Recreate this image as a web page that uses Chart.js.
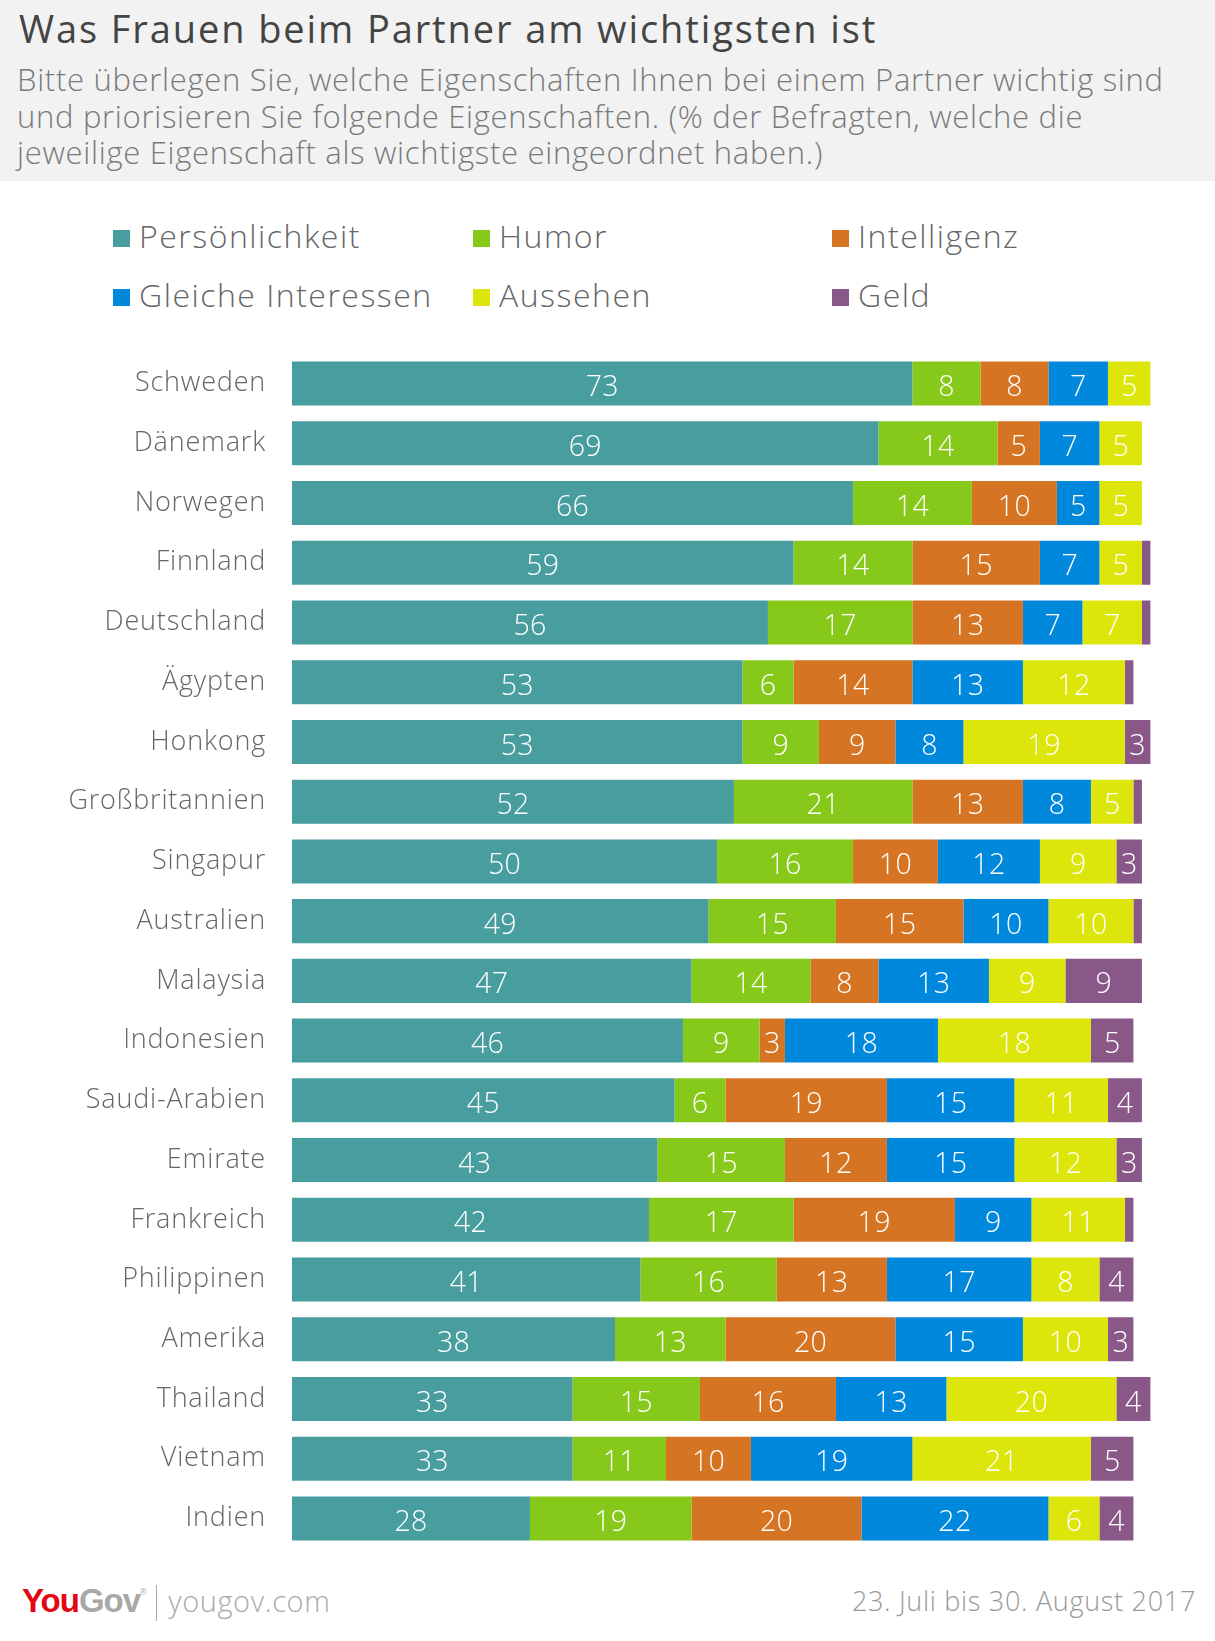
<!DOCTYPE html>
<html>
<head>
<meta charset="utf-8">
<script src="https://cdn.jsdelivr.net/npm/chart.js@4/dist/chart.umd.min.js"></script>
<style>
  html, body { margin: 0; padding: 0; background: #fff; }
  body { width: 1215px; height: 1641px; position: relative; overflow: hidden; font-family: "Open Sans", Lato, sans-serif; }
  #header { position: absolute; left: 0; top: 0; width: 1215px; height: 181px; background: #f2f2f2; }
  #title { position: absolute; left: 19px; top: 2px; font-size: 38px; color: #444; font-weight: 400; white-space: nowrap; letter-spacing: 1.9px; }
  #subtitle { position: absolute; left: 17px; top: 61px; font-size: 31px; line-height: 36.6px; color: #7a7a7a; font-weight: 300; white-space: nowrap; letter-spacing: 0.7px; }
  #legend { position: absolute; left: 0; top: 210px; width: 1215px; height: 110px; }
  .li { position: absolute; font-size: 32px; color: #666; font-weight: 300; white-space: nowrap; line-height: 40px; letter-spacing: 1.5px; }
  .li span.sw { display: inline-block; width: 17px; height: 17px; margin-right: 9px; vertical-align: 1px; }
  #chartwrap { position: absolute; left: 0; top: 340px; width: 1215px; height: 1221px; }
  #footer-left { position: absolute; left: 22px; top: 1581px; font-size: 29px; color: #aaa; white-space: nowrap; }
  #footer-left .you { color: #e30613; font-weight: 700; letter-spacing: -1px; font-family: "Liberation Sans", Arial, sans-serif; font-size: 33px; }
  #footer-left .gov { color: #a8a8a8; font-weight: 700; letter-spacing: -1px; font-family: "Liberation Sans", Arial, sans-serif; font-size: 33px; }
  #footer-left .reg { color: #a8a8a8; font-size: 9px; vertical-align: 17px; font-family: "Liberation Sans", Arial, sans-serif; }
  #footer-left .sep { display: inline-block; width: 1.5px; height: 36px; background: #aaa; margin: 0 11px 0 9px; vertical-align: -9px; }
  #footer-left .url { font-weight: 300; color: #aaa; letter-spacing: 0.6px; }
  #footer-right { position: absolute; right: 19px; top: 1582px; font-size: 27px; color: #999; font-weight: 300; white-space: nowrap; letter-spacing: 0.7px; }
</style>
</head>
<body>
<div id="header">
  <div id="title">Was Frauen beim Partner am wichtigsten ist</div>
  <div id="subtitle">Bitte überlegen Sie, welche Eigenschaften Ihnen bei einem Partner wichtig sind<br>und priorisieren Sie folgende Eigenschaften. (% der Befragten, welche die<br>jeweilige Eigenschaft als wichtigste eingeordnet haben.)</div>
</div>
<div id="legend"></div>
<div id="chartwrap"><canvas id="c" width="1215" height="1221"></canvas></div>
<div id="footer-left"><span class="you">You</span><span class="gov">Gov</span><span class="reg">®</span><span class="sep"></span><span class="url">yougov.com</span></div>
<div id="footer-right">23. Juli bis 30. August 2017</div>

<script>
// ---- data ----
const countries = ["Schweden","Dänemark","Norwegen","Finnland","Deutschland","Ägypten","Honkong","Großbritannien","Singapur","Australien","Malaysia","Indonesien","Saudi-Arabien","Emirate","Frankreich","Philippinen","Amerika","Thailand","Vietnam","Indien"];
const seriesNames = ["Persönlichkeit","Humor","Intelligenz","Gleiche Interessen","Aussehen","Geld"];
const persoenlichkeit = [73,69,66,59,56,53,53,52,50,49,47,46,45,43,42,41,38,33,33,28];
const humor           = [ 8,14,14,14,17, 6, 9,21,16,15,14, 9, 6,15,17,16,13,15,11,19];
const intelligenz     = [ 8, 5,10,15,13,14, 9,13,10,15, 8, 3,19,12,19,13,20,16,10,20];
const interessen      = [ 7, 7, 5, 7, 7,13, 8, 8,12,10,13,18,15,15, 9,17,15,13,19,22];
const aussehen        = [ 5, 5, 5, 5, 7,12,19, 5, 9,10, 9,18,11,12,11, 8,10,20,21, 6];
const geld            = [ 0, 0, 0, 1, 1, 1, 3, 1, 3, 1, 9, 5, 4, 3, 1, 4, 3, 4, 5, 4];
const colors = ["#489e9f","#86c91b","#d57524","#0088dd","#dde60a","#895788"];

const seriesValues = [persoenlichkeit, humor, intelligenz, interessen, aussehen, geld];

// ---- HTML legend (3 columns x 2 rows) ----
const legendPos = [[113,237],[473,237],[832,237],[113,296],[473,296],[832,296]];
const legend = document.getElementById('legend');
seriesNames.forEach((n, i) => {
  const d = document.createElement('div');
  d.className = 'li';
  d.style.left = legendPos[i][0] + 'px';
  d.style.top = (legendPos[i][1] - 210 - 21) + 'px';
  d.innerHTML = '<span class="sw" style="background:' + colors[i] + '"></span>' + n;
  legend.appendChild(d);
});

// ---- value label plugin ----
const valueLabels = {
  id: 'valueLabels',
  beforeDraw(chart) { chart.ctx.letterSpacing = '0.8px'; },
  afterDatasetsDraw(chart) {
    const ctx = chart.ctx;
    ctx.save();
    ctx.letterSpacing = '0.3px';
    ctx.fillStyle = '#ffffff';
    ctx.font = '300 28.5px "Open Sans", Lato, sans-serif';
    ctx.textAlign = 'center';
    ctx.textBaseline = 'middle';
    chart.data.datasets.forEach((ds, di) => {
      const meta = chart.getDatasetMeta(di);
      meta.data.forEach((el, i) => {
        const v = ds.data[i];
        if (v < 3) return;
        const p = el.getProps(['x','y','base'], true);
        ctx.fillText(String(v), (p.x + p.base) / 2, p.y + 4.5);
      });
    });
    ctx.restore();
  }
};

new Chart(document.getElementById('c'), {
  type: 'bar',
  data: {
    labels: countries,
    datasets: seriesNames.map((n, i) => ({
      label: n,
      data: seriesValues[i],
      backgroundColor: colors[i],
      borderWidth: 0,
      barPercentage: 0.737,
      categoryPercentage: 1.0
    }))
  },
  options: {
    indexAxis: 'y',
    responsive: false,
    animation: false,
    layout: { padding: { top: 13.6, bottom: 12.6, left: 0, right: 0 } },
    plugins: { legend: { display: false }, tooltip: { enabled: false } },
    scales: {
      x: { stacked: true, min: 0, max: 108.6, display: false },
      y: {
        stacked: true,
        grid: { display: false, drawTicks: false },
        border: { display: false },
        ticks: { padding: 26, color: '#666', font: { family: '"Open Sans", Lato, sans-serif', size: 27, weight: '300' } },
        afterFit(scale) { scale.width = 292; scale.paddingTop = 0; scale.paddingBottom = 0; }
      }
    }
  },
  plugins: [valueLabels]
});
</script>
</body>
</html>
